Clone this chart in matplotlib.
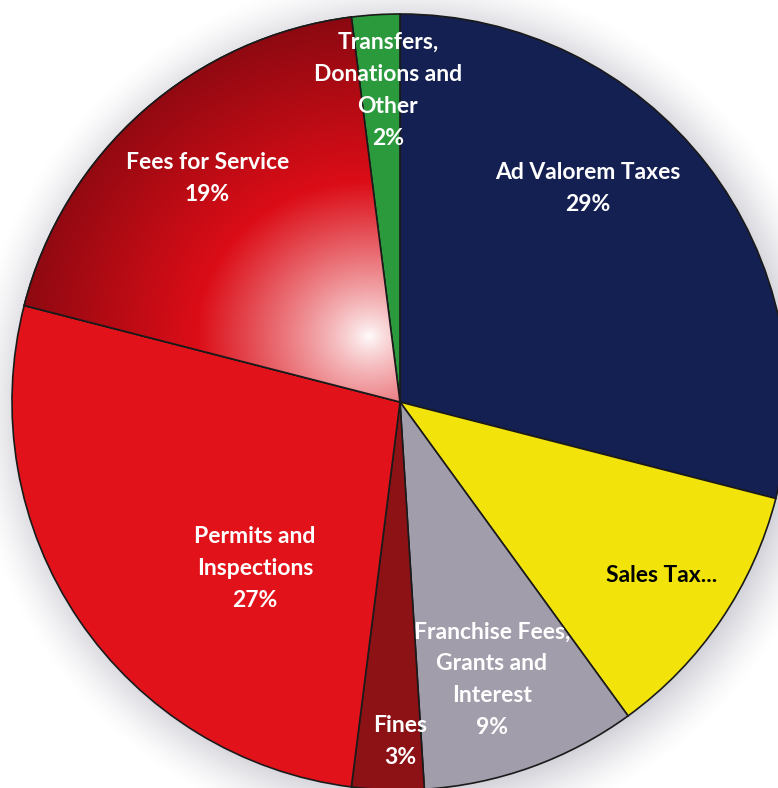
import numpy as np
import matplotlib.pyplot as plt
from matplotlib.patches import Wedge

# revenue sources, clockwise from 12 o'clock
names = ["Ad Valorem Taxes", "Sales Tax...", "Franchise Fees,\nGrants and\nInterest",
         "Fines", "Permits and\nInspections", "Fees for Service",
         "Transfers,\nDonations and\nOther"]
shares = [29, 11, 9, 3, 27, 19, 2]
show_pct = [True, False, True, True, True, True, True]

colors = ["#142052", "#f2e40a", "#a29dab", "#8c1216", "#e2121a", "#d41018", "#2b9a3c"]
text_colors = ["white", "black", "white", "white", "white", "white", "white"]

# where each label sits (pie radius = 1)
label_xy = [(0.485, 0.55), (0.675, -0.446), (0.237, -0.716), (0.0, -0.876),
            (-0.374, -0.428), (-0.497, 0.577), (-0.031, 0.804)]

W, H = 778, 788
R_PX = 388.0
CX, CY = 400.0, 402.0
LINE_STEP = 32 / R_PX   # distance between label lines

fig = plt.figure(figsize=(W / 100, H / 100), dpi=100)
ax = fig.add_axes([0, 0, 1, 1])
ax.axis("off")
ext = [-CX / R_PX, (W - CX) / R_PX, -(H - CY) / R_PX, CY / R_PX]

# soft drop shadow behind the pie
gx = np.linspace(ext[0], ext[1], 400)
gy = np.linspace(ext[3], ext[2], 400)
X, Y = np.meshgrid(gx, gy)
d = np.hypot(X - 0.015, Y + 0.015)
sh = np.clip(1 - (d - 0.97) / 0.16, 0, 1) ** 1.5 * 0.45
shadow = np.zeros((400, 400, 4))
shadow[..., 0] = 0.55
shadow[..., 1] = 0.55
shadow[..., 2] = 0.62
shadow[..., 3] = sh
ax.imshow(shadow, extent=ext, zorder=0, interpolation="bilinear")

wedges, _ = ax.pie(shares, startangle=90, counterclock=False, colors=colors,
                   radius=1, center=(0, 0),
                   wedgeprops=dict(edgecolor="#1a1a1a", linewidth=1.2))
ax.set_xlim(ext[0], ext[1])
ax.set_ylim(ext[2], ext[3])

# glossy highlight on the Fees for Service slice
fees = wedges[5]
t = np.hypot((X + 0.08) * 0.9, Y - 0.17)
white = np.array([1.0, 1.0, 1.0])
red = np.array([0.86, 0.05, 0.09])
dark = np.array([0.45, 0.03, 0.06])
a = np.clip(t / 0.40, 0, 1)[..., None] ** 0.8
b = np.clip((t - 0.40) / 0.55, 0, 1)[..., None]
rgb = white * (1 - a) + red * a
rgb = rgb * (1 - b) + dark * b
grad = np.dstack([rgb, np.ones(X.shape)])
im = ax.imshow(grad, extent=ext, zorder=fees.get_zorder() + 0.1, interpolation="bilinear")
im.set_clip_path(fees)
ax.add_patch(Wedge((0, 0), fees.r, fees.theta1, fees.theta2, fill=False,
                   edgecolor="#1a1a1a", linewidth=1.2, zorder=fees.get_zorder() + 0.2))

# labels, one text per line so the blocks stay tight
for name, v, pct, (x, y), tc in zip(names, shares, show_pct, label_xy, text_colors):
    lines = name.split("\n") + (["%d%%" % v] if pct else [])
    n = len(lines)
    for i, line in enumerate(lines):
        ly = y + ((n - 1) / 2 - i) * LINE_STEP
        ax.text(x, ly, line, ha="center", va="center", color=tc, fontsize=16.5,
                fontweight="bold", family="Lato", zorder=5)

plt.savefig("out.png", dpi=100)
